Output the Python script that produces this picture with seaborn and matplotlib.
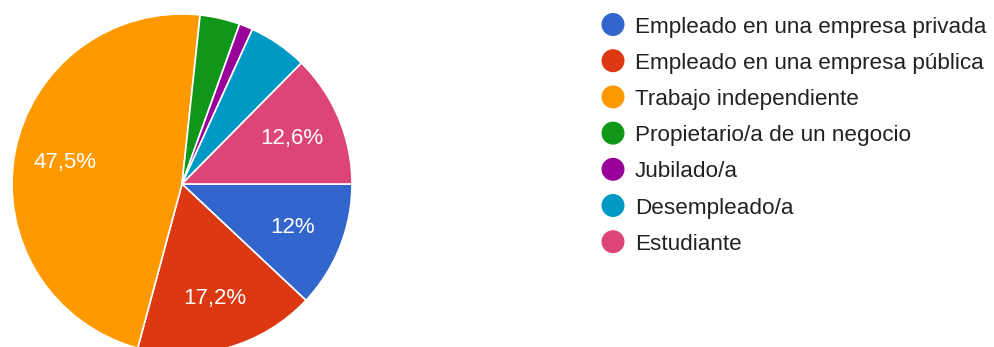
import matplotlib
matplotlib.use("Agg")
import matplotlib.pyplot as plt
import seaborn as sns

categories = [
    "Empleado en una empresa privada",
    "Empleado en una empresa pública",
    "Trabajo independiente",
    "Propietario/a de un negocio",
    "Jubilado/a",
    "Desempleado/a",
    "Estudiante",
]
shares = [12.0, 17.2, 47.5, 3.8, 1.3, 5.6, 12.6]
colors = ["#3366CC", "#DC3912", "#FF9900", "#109618", "#990099", "#0099C6", "#DD4477"]

sns.set_theme(style="white")
plt.rcParams["font.family"] = ["Liberation Sans", "DejaVu Sans"]
palette = sns.color_palette(colors)

W, H = 995, 347
fig = plt.figure(figsize=(W / 100, H / 100), dpi=100)
fig.patch.set_facecolor("white")

# pie: centre (182, 184) px, radius 170 px
cx, cy, r = 182, 184, 170
ax = fig.add_axes([(cx - r) / W, (H - cy - r) / H, 2 * r / W, 2 * r / H])
ax.set_axis_off()


def fmt(p):
    if p < 7:
        return ""
    s = f"{p:.1f}".rstrip("0").rstrip(".")
    return s.replace(".", ",") + "%"


wedges, texts, autotexts = ax.pie(
    shares,
    colors=palette,
    startangle=0,
    counterclock=False,
    radius=1,
    autopct=fmt,
    pctdistance=0.7,
    wedgeprops=dict(edgecolor="white", linewidth=1.2),
    textprops=dict(color="white", fontsize=16),
)
ax.set_xlim(-1, 1)
ax.set_ylim(-1, 1)
ax.set_aspect("equal")

# legend drawn in pixel space
lax = fig.add_axes([0, 0, 1, 1], facecolor="none")
lax.set_xlim(0, W)
lax.set_ylim(H, 0)
lax.set_axis_off()
y0, step = 24.5, 36.2
for i, (lab, col) in enumerate(zip(categories, palette)):
    y = y0 + i * step
    lax.scatter([613], [y], s=(23 * 0.72) ** 2, color=col, edgecolors="none")
    lax.text(635, y + 8, lab, fontsize=16.2, color="#222222", va="baseline", ha="left")

fig.savefig("out.png", dpi=100, facecolor="white")
